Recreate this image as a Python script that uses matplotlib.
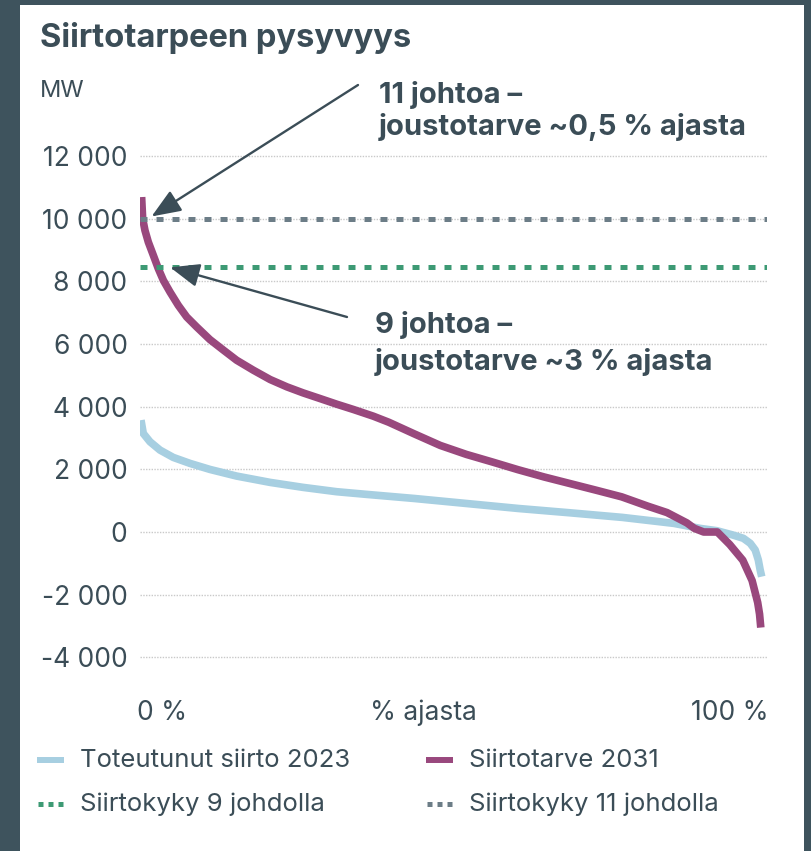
import numpy as np
import matplotlib.pyplot as plt
from matplotlib.patches import Rectangle
from matplotlib.lines import Line2D

plt.rcParams['font.family'] = ['Inter', 'DejaVu Sans']

# duration curves, x = % of time, y = MW
pct_2023 = [0, 0.37, 1.45, 3.06, 5.2, 7.9, 11.1, 15.4, 20.8, 26.1, 31.5, 36.3, 44, 52.4,
            60.8, 69, 77.5, 85.8, 90, 92.7, 95.3, 97.0, 98.1, 98.9, 99.4, 99.7, 99.95]
mw_2023 = [3570, 3145, 2880, 2614, 2380, 2189, 1997, 1785, 1583, 1424, 1286, 1201, 1070, 910,
           750, 614, 466, 275, 116, 42, -96, -202, -361, -574, -892, -1211, -1425]

pct_2031 = [0.1, 0.27, 0.64, 1.18, 1.99, 2.79, 3.6, 4.67, 6.0, 7.36, 8.97, 11.1, 13.3, 15.4,
            18.1, 20.8, 23.5, 26.1, 28.8, 31.5, 34.2, 37.4, 39.9, 44, 48.2, 52.4, 56.6, 60.7,
            64.9, 69.1, 73.3, 77.4, 81.6, 84.7, 87.9, 89.1, 90.6, 92.8, 94.8, 96.9, 98.4,
            99.3, 99.6, 99.8]
mw_2031 = [10690, 10000, 9625, 9253, 8829, 8404, 8032, 7660, 7235, 6863, 6544, 6141, 5801, 5482,
           5163, 4866, 4632, 4440, 4261, 4080, 3910, 3697, 3503, 3132, 2762, 2476, 2233, 1989,
           1757, 1545, 1333, 1122, 825, 620, 290, 116, 0, 0, -400, -900, -1550,
           -2250, -2620, -3050]

cap_9 = 8450
cap_11 = 10000

yticks = [-4000, -2000, 0, 2000, 4000, 6000, 8000, 10000, 12000]
ytick_labels = ['-4 000', '-2 000', '0', '2 000', '4 000', '6 000', '8 000', '10 000', '12 000']

text_col = '#3b4d57'
blue = '#a7cfe1'
purple = '#99487d'
green = '#3d9a74'
grey = '#6c7d87'

W, H = 812, 851


def fx(px):
    return px / W


def fy(py):
    return 1 - py / H


fig = plt.figure(figsize=(W / 100, H / 100), dpi=100)
fig.patch.set_facecolor('#3e535d')
fig.add_artist(Rectangle((fx(20), 0), fx(804) - fx(20), fy(5), transform=fig.transFigure,
                         facecolor='white', edgecolor='none', zorder=0))

ax = fig.add_axes([fx(140), fy(675), fx(767) - fx(140), fy(140) - fy(675)])
ax.set_facecolor('none')

ax.plot(pct_2023, mw_2023, color=blue, lw=5.5, solid_capstyle='butt', solid_joinstyle='round', zorder=3)
ax.plot(pct_2031, mw_2031, color=purple, lw=5.5, solid_capstyle='butt', solid_joinstyle='round', zorder=4)
ax.axhline(cap_11, color=grey, lw=3.6, linestyle=(0, (1.4, 1.8)), zorder=5)
ax.axhline(cap_9, color=green, lw=3.6, linestyle=(0, (1.4, 1.8)), zorder=5)

ax.set_xlim(-0.16, 100.8)
ax.set_ylim(-4564, 12511)
ax.set_yticks(yticks)
ax.set_yticklabels(ytick_labels)
ax.yaxis.grid(True, color='#c9c9c9', lw=1.0, linestyle=(0, (1, 1)))
ax.set_axisbelow(True)
for s in ax.spines.values():
    s.set_visible(False)
ax.tick_params(axis='y', length=0, pad=9, labelsize=19, labelcolor=text_col)
ax.set_xticks([])

# x axis labels
fig.text(fx(137), fy(720), '0 %', fontsize=19, color=text_col, va='baseline', ha='left')
fig.text(fx(423), fy(720), '% ajasta', fontsize=19, color=text_col, va='baseline', ha='center')
fig.text(fx(769), fy(720), '100 %', fontsize=19, color=text_col, va='baseline', ha='right')

# title and unit
fig.text(fx(40), fy(47), 'Siirtotarpeen pysyvyys', fontsize=23.5, fontweight='bold',
         color=text_col, va='baseline')
fig.text(fx(40), fy(97), 'MW', fontsize=17, color=text_col, va='baseline')

# annotations
arrow = dict(arrowstyle='-|>,head_length=1.0,head_width=0.4', mutation_scale=18,
             color=text_col, lw=1.7, shrinkA=0, shrinkB=0)
ax.annotate('', xy=(1.7, 10070), xycoords='data', xytext=(fx(358), fy(85)),
            textcoords='figure fraction', arrowprops=arrow, zorder=6)
ax.annotate('', xy=(4.7, 8446), xycoords='data', xytext=(fx(347), fy(317)),
            textcoords='figure fraction', arrowprops=arrow, zorder=6)
fig.text(fx(379), fy(103), '11 johtoa –', fontsize=21, fontweight='bold', color=text_col, va='baseline')
fig.text(fx(379), fy(135), 'joustotarve ~0,5 % ajasta', fontsize=21, fontweight='bold',
         color=text_col, va='baseline')
fig.text(fx(375), fy(333), '9 johtoa –', fontsize=21, fontweight='bold', color=text_col, va='baseline')
fig.text(fx(375), fy(370), 'joustotarve ~3 % ajasta', fontsize=21, fontweight='bold',
         color=text_col, va='baseline')

# legend
legend_items = [
    (37, 760, 'Toteutunut siirto 2023', blue, '-'),
    (426, 760, 'Siirtotarve 2031', purple, '-'),
    (37, 804, 'Siirtokyky 9 johdolla', green, ':'),
    (426, 804, 'Siirtokyky 11 johdolla', grey, ':'),
]
for x0, y0, label, col, style in legend_items:
    if style == '-':
        fig.add_artist(Line2D([fx(x0), fx(x0 + 27)], [fy(y0), fy(y0)], color=col, lw=4.3,
                              solid_capstyle='butt'))
    else:
        fig.add_artist(Line2D([fx(x0 + 1), fx(x0 + 27)], [fy(y0), fy(y0)], color=col, lw=3.6,
                              linestyle=(0, (1, 1)), dash_capstyle='butt'))
    fig.text(fx(x0 + 43), fy(y0 + 7), label, fontsize=18.5, color=text_col, va='baseline')

plt.savefig('out.png', dpi=100, facecolor=fig.get_facecolor())
